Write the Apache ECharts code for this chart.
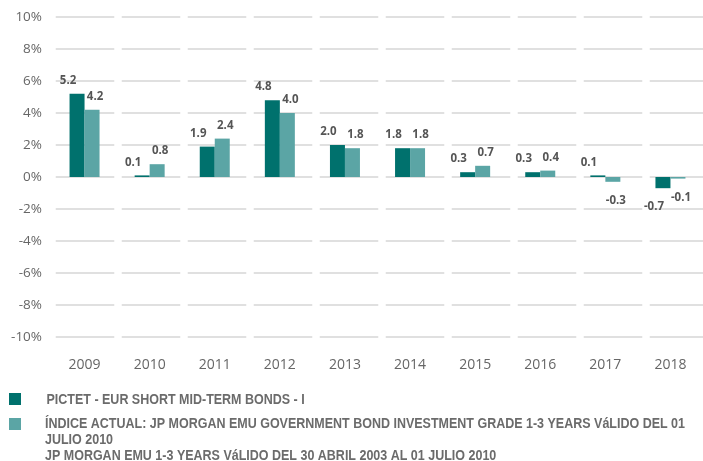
<!DOCTYPE html>
<html>
<head>
<meta charset="utf-8">
<script src="https://cdn.jsdelivr.net/npm/echarts@6/dist/echarts.min.js"></script>
<style>
  html, body { margin: 0; padding: 0; background: #fff; }
  #chart { width: 703px; height: 461px; }
</style>
</head>
<body>
<div id="chart"></div>
<script>
// datos
var years = ['2009', '2010', '2011', '2012', '2013', '2014', '2015', '2016', '2017', '2018'];
var fondo = [5.2, 0.1, 1.9, 4.8, 2.0, 1.8, 0.3, 0.3, 0.1, -0.7];
var indice = [4.2, 0.8, 2.4, 4.0, 1.8, 1.8, 0.7, 0.4, -0.3, -0.1];
var nombreFondo = 'PICTET - EUR SHORT MID-TERM BONDS - I';
var nombreIndice = 'ÍNDICE ACTUAL: JP MORGAN EMU GOVERNMENT BOND INVESTMENT GRADE 1-3 YEARS VáLIDO DEL 01';
var indiceLineas = ['JULIO 2010', 'JP MORGAN EMU 1-3 YEARS VáLIDO DEL 30 ABRIL 2003 AL 01 JULIO 2010'];

var colorFondo = '#00716d';
var colorIndice = '#5ba5a5';

var chart = echarts.init(document.getElementById('chart'));

// etiqueta arriba si positivo, abajo si negativo
function conEtiqueta(vals) {
  return vals.map(function (v) {
    return {
      value: v,
      label: { position: v < 0 ? 'bottom' : 'top', distance: v < 0 ? 13 : 7 }
    };
  });
}

var etiqueta = {
  show: true,
  color: '#555',
  fontSize: 11.5,
  fontWeight: 'bold',
  fontFamily: 'Open Sans',
  formatter: function (p) { return p.value.toFixed(1); }
};

// leyenda: fuente estrecha simulada (Liberation Sans comprimida)
var fuenteLeyenda = 'bold 14px "Liberation Sans"';
var ctx = document.createElement('canvas').getContext('2d');
ctx.font = fuenteLeyenda;
var escala = 640 / ctx.measureText(nombreIndice).width;

function textoLeyenda(txt, x, yc) {
  return {
    type: 'text',
    x: x,
    y: yc,
    scaleX: escala,
    style: {
      text: txt,
      font: fuenteLeyenda,
      fill: '#6b6b6b',
      verticalAlign: 'middle'
    }
  };
}

var leyenda = [
  { type: 'rect', shape: { x: 9, y: 393, width: 12, height: 12 }, style: { fill: colorFondo } },
  { type: 'rect', shape: { x: 9, y: 418, width: 12, height: 12 }, style: { fill: colorIndice } },
  textoLeyenda(nombreFondo, 46.5, 400),
  textoLeyenda(nombreIndice, 45, 424),
  textoLeyenda(indiceLineas[0], 45, 440.5),
  textoLeyenda(indiceLineas[1], 45, 456.5)
];

var option = {
  animation: false,
  backgroundColor: '#fff',
  grid: { left: 52, right: -9, top: 17, bottom: 124 },
  graphic: leyenda,
  xAxis: {
    type: 'category',
    data: years,
    axisLine: { show: false },
    axisTick: { show: false },
    axisLabel: { color: '#666', fontSize: 14, fontFamily: 'Open Sans', margin: 21 }
  },
  yAxis: {
    type: 'value',
    min: -10,
    max: 10,
    interval: 2,
    axisLine: { show: false },
    axisTick: { show: false },
    axisLabel: { color: '#666', fontSize: 13.5, fontFamily: 'Open Sans', margin: 10, formatter: '{value}%' },
    splitLine: {
      lineStyle: { color: '#d6d6d6', width: 1.5, type: [58.5, 7.5], dashOffset: 62.25 }
    }
  },
  series: [
    {
      name: nombreFondo,
      type: 'bar',
      barWidth: 15,
      barGap: '0%',
      itemStyle: { color: colorFondo },
      label: Object.assign({ offset: [-9, 0] }, etiqueta),
      data: conEtiqueta(fondo)
    },
    {
      name: nombreIndice,
      type: 'bar',
      barWidth: 15,
      itemStyle: { color: colorIndice },
      label: Object.assign({ offset: [3, 0] }, etiqueta),
      data: conEtiqueta(indice)
    }
  ]
};

chart.setOption(option);
</script>
</body>
</html>
